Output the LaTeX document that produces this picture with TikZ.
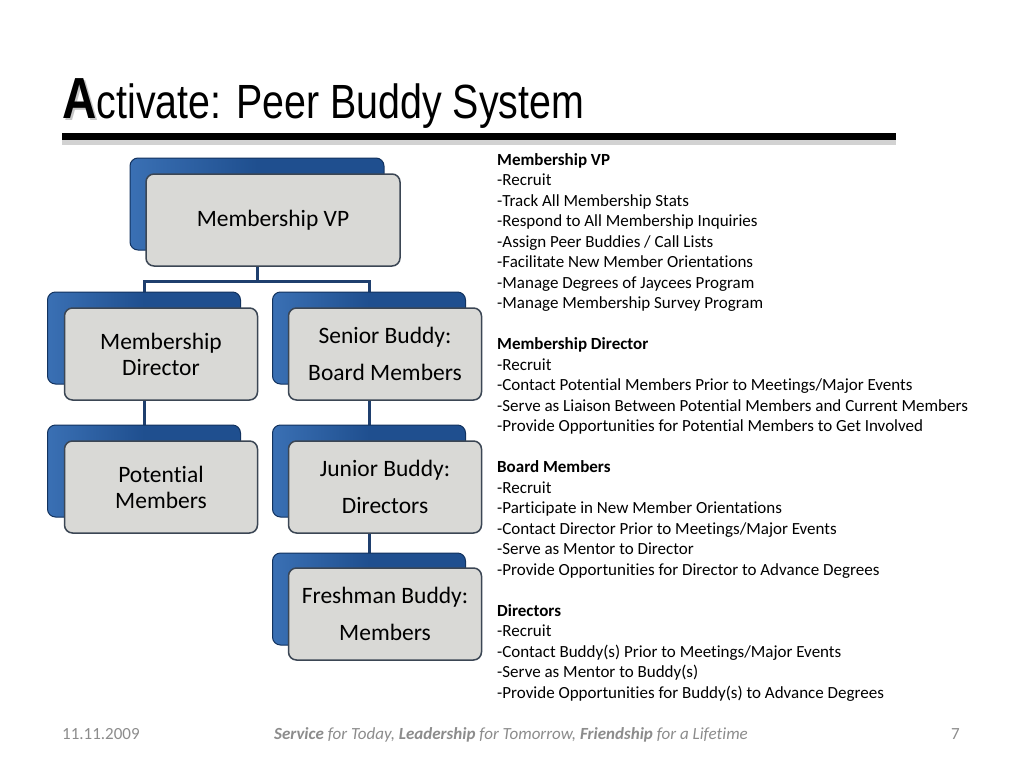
\documentclass[tikz,border=0pt]{standalone}
\usepackage{fontspec}
\setmainfont[Ligatures=NoCommon]{Carlito}
\newfontfamily\titlefont[FakeStretch=0.82]{Liberation Sans}
\usetikzlibrary{backgrounds,shadows}

\definecolor{boxblue}{HTML}{1F4F8F}
\definecolor{boxblueL}{HTML}{3A70B4}
\definecolor{boxedge}{HTML}{12325E}
\definecolor{boxgrey}{HTML}{D9D9D6}
\definecolor{greyedge}{HTML}{3B4654}
\definecolor{linkblue}{HTML}{1F3F6E}
\definecolor{footgrey}{HTML}{8C8C8C}

\begin{document}
\begin{tikzpicture}[x=1pt,y=-1pt,
	backbox/.style={rectangle, rounded corners=8pt, minimum width=193pt, minimum height=92pt,
		draw=boxedge, line width=1pt, left color=boxblueL, right color=boxblue, middle color=boxblue},
	frontbox/.style={rectangle, rounded corners=8pt, minimum width=193pt, minimum height=92pt,
		draw=greyedge, line width=1.5pt, fill=boxgrey, align=center,
		font=\fontsize{23.5}{26}\selectfont},
	link/.style={draw=linkblue, line width=3pt},
	foot/.style={inner sep=0, text=footgrey, font=\fontsize{17}{19}\selectfont}]
	\useasboundingbox (0,0) rectangle (1024,768);

	% title
	\node[anchor=base west, inner sep=0, text=gray!45] at (64,120) {\titlefont\bfseries\fontsize{58}{58}\selectfont A};
	\node (A) [anchor=base west, inner sep=0] at (62,118) {\titlefont\bfseries\fontsize{58}{58}\selectfont A};
	\node (title) [anchor=base west, inner sep=0] at (A.base east) {\titlefont\fontsize{48}{48}\selectfont ctivate: Peer Buddy System};
	\fill[black, drop shadow={opacity=0.35, shadow xshift=0pt, shadow yshift=-5pt}] (62,133) rectangle (896,140);

	% organisation chart
	\node (vpb) [backbox, minimum width=254pt] at (257,204) {};
	\node (vp) [frontbox, minimum width=254pt] at (273,220) {Membership VP};
	\node (mdb) [backbox] at (144,338) {};
	\node (md) [frontbox] at (161,354) {Membership\\Director};
	\node (sbb) [backbox] at (369,338) {};
	\node (sb) [frontbox] at (385,354) {Senior Buddy:\\[11pt]Board Members};
	\node (pmb) [backbox] at (144,471) {};
	\node (pm) [frontbox] at (161,487) {Potential\\Members};
	\node (jbb) [backbox] at (369,471) {};
	\node (jb) [frontbox] at (385,487) {Junior Buddy:\\[11pt]Directors};
	\node (fbb) [backbox] at (369,599) {};
	\node (fb) [frontbox] at (385,614) {Freshman Buddy:\\[11pt]Members};
	\coordinate (bus) at (256,281);

	\begin{pgfonlayer}{background}
		\fill[white] (0,0) rectangle (1024,768);
		\draw[link] (vpb) -- (vpb |- bus);
		\draw[link] (mdb) |- (bus) -| (sbb);
		\draw[link] (mdb) -- (pmb);
		\draw[link] (sbb) -- (jbb);
		\draw[link] (jbb) -- (fbb);
	\end{pgfonlayer}

	% duties
	\node (duties) [anchor=north west, inner sep=0, align=left, font=\fontsize{17}{20.5}\selectfont] at (497,153) {
		\textbf{Membership VP}\\
		-Recruit\\
		-Track All Membership Stats\\
		-Respond to All Membership Inquiries\\
		-Assign Peer Buddies / Call Lists\\
		-Facilitate New Member Orientations\\
		-Manage Degrees of Jaycees Program\\
		-Manage Membership Survey Program\\[20.5pt]
		\textbf{Membership Director}\\
		-Recruit\\
		-Contact Potential Members Prior to Meetings/Major Events\\
		-Serve as Liaison Between Potential Members and Current Members\\
		-Provide Opportunities for Potential Members to Get Involved\\[20.5pt]
		\textbf{Board Members}\\
		-Recruit\\
		-Participate in New Member Orientations\\
		-Contact Director Prior to Meetings/Major Events\\
		-Serve as Mentor to Director\\
		-Provide Opportunities for Director to Advance Degrees\\[20.5pt]
		\textbf{Directors}\\
		-Recruit\\
		-Contact Buddy(s) Prior to Meetings/Major Events\\
		-Serve as Mentor to Buddy(s)\\
		-Provide Opportunities for Buddy(s) to Advance Degrees};

	% footer
	\node (date) [foot, anchor=base west] at (62,739) {11.11.2009};
	\node (motto) [foot, anchor=base, font=\fontsize{17}{19}\selectfont\itshape] at (511,739)
		{\textbf{Service} for Today, \textbf{Leadership} for Tomorrow, \textbf{Friendship} for a Lifetime};
	\node (page) [foot, anchor=base east] at (960,739) {7};
\end{tikzpicture}
\end{document}
